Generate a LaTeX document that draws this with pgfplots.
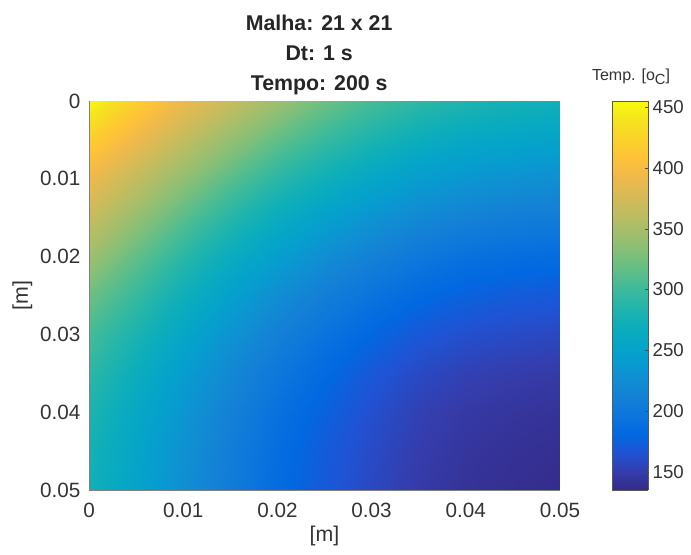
\documentclass[border=0pt]{standalone}
\usepackage{fontspec}
\setmainfont{Liberation Sans}
\usepackage{pgfplots}
\pgfplotsset{compat=1.18}
\pgfplotsset{colormap={parulaold}{
rgb=(0.2081,0.1663,0.5292) rgb=(0.2081,0.2386,0.6771) rgb=(0.1253,0.3242,0.8303) rgb=(0.0060,0.4086,0.8828)
rgb=(0.0498,0.4586,0.8641) rgb=(0.0779,0.5040,0.8384) rgb=(0.0641,0.5570,0.8240) rgb=(0.0265,0.6137,0.8135)
rgb=(0.0228,0.6535,0.7768) rgb=(0.0590,0.6838,0.7254) rgb=(0.1453,0.7098,0.6646) rgb=(0.2586,0.7317,0.5954)
rgb=(0.3953,0.7459,0.5244) rgb=(0.5300,0.7491,0.4661) rgb=(0.6473,0.7456,0.4188) rgb=(0.7525,0.7384,0.3768)
rgb=(0.8507,0.7299,0.3360) rgb=(0.9450,0.7261,0.2886) rgb=(0.9990,0.7653,0.2164) rgb=(0.9789,0.8271,0.1633)
rgb=(0.9589,0.8949,0.1132) rgb=(0.9763,0.9831,0.0538)}}
\definecolor{txt}{gray}{0.2}
\begin{document}
\begin{tikzpicture}[x=0.75pt,y=0.75pt]
\useasboundingbox (-89,-65) rectangle (602,490);
\begin{axis}[
  at={(0pt,0pt)},anchor=south west,
  scale only axis,width=353.25pt,height=291.75pt,
  view={0}{90},
  xmin=0,xmax=0.05,ymin=0,ymax=0.05,y dir=reverse,
  xtick={0,0.01,0.02,0.03,0.04,0.05},ytick={0,0.01,0.02,0.03,0.04,0.05},
  scaled ticks=false,
  xticklabel style={/pgf/number format/fixed,/pgf/number format/precision=2,yshift=-6pt},
  yticklabel style={/pgf/number format/fixed,/pgf/number format/precision=2,xshift=-3pt},
  /pgf/number format/assume math mode=true,
  tick label style={font=\fontsize{15.5}{17}\selectfont,text=txt},
  label style={font=\fontsize{16}{18}\selectfont,text=txt},
  major tick length=0pt,
  axis line style={gray,line width=0.6pt},
  axis x line*=bottom,axis y line*=left,
  xlabel={[m]},ylabel={[m]},
  ylabel style={yshift=-1pt},
  title style={align=center,font=\fontsize{16}{22.5}\selectfont\bfseries,text=black!85,yshift=-5pt,xshift=-4pt},
  title={Malha: 21 x 21\\Dt: 1 s\\Tempo: 200 s},
  colormap name=parulaold,
  point meta min=135,point meta max=455,
]
\addplot3[surf,shader=interp,mesh/rows=11] table[row sep=\\] {
x y z\\
0 0 455\\ 0.005 0 420\\ 0.01 0 392\\ 0.015 0 368\\ 0.02 0 345\\ 0.025 0 322\\ 0.03 0 304\\ 0.035 0 292\\ 0.04 0 283\\ 0.045 0 277\\ 0.05 0 274\\
0 0.005 420\\ 0.005 0.005 392\\ 0.01 0.005 365\\ 0.015 0.005 340\\ 0.02 0.005 316\\ 0.025 0.005 297\\ 0.03 0.005 281\\ 0.035 0.005 268\\ 0.04 0.005 259\\ 0.045 0.005 254\\ 0.05 0.005 251\\
0 0.01 392\\ 0.005 0.01 365\\ 0.01 0.01 338\\ 0.015 0.01 312\\ 0.02 0.01 290\\ 0.025 0.01 272\\ 0.03 0.01 256\\ 0.035 0.01 243\\ 0.04 0.01 235\\ 0.045 0.01 230\\ 0.05 0.01 227\\
0 0.015 368\\ 0.005 0.015 340\\ 0.01 0.015 312\\ 0.015 0.015 288\\ 0.02 0.015 266\\ 0.025 0.015 248\\ 0.03 0.015 232\\ 0.035 0.015 220\\ 0.04 0.015 212\\ 0.045 0.015 207\\ 0.05 0.015 205\\
0 0.02 345\\ 0.005 0.02 316\\ 0.01 0.02 290\\ 0.015 0.02 266\\ 0.02 0.02 245\\ 0.025 0.02 226\\ 0.03 0.02 211\\ 0.035 0.02 199\\ 0.04 0.02 191\\ 0.045 0.02 187\\ 0.05 0.02 185\\
0 0.025 322\\ 0.005 0.025 297\\ 0.01 0.025 272\\ 0.015 0.025 248\\ 0.02 0.025 226\\ 0.025 0.025 208\\ 0.03 0.025 194\\ 0.035 0.025 183\\ 0.04 0.025 176\\ 0.045 0.025 172\\ 0.05 0.025 170\\
0 0.03 304\\ 0.005 0.03 281\\ 0.01 0.03 256\\ 0.015 0.03 232\\ 0.02 0.03 211\\ 0.025 0.03 194\\ 0.03 0.03 180\\ 0.035 0.03 169\\ 0.04 0.03 163\\ 0.045 0.03 160\\ 0.05 0.03 158\\
0 0.035 292\\ 0.005 0.035 268\\ 0.01 0.035 243\\ 0.015 0.035 220\\ 0.02 0.035 199\\ 0.025 0.035 183\\ 0.03 0.035 169\\ 0.035 0.035 159\\ 0.04 0.035 153\\ 0.045 0.035 150\\ 0.05 0.035 148\\
0 0.04 283\\ 0.005 0.04 259\\ 0.01 0.04 235\\ 0.015 0.04 212\\ 0.02 0.04 191\\ 0.025 0.04 176\\ 0.03 0.04 163\\ 0.035 0.04 153\\ 0.04 0.04 147\\ 0.045 0.04 144\\ 0.05 0.04 142\\
0 0.045 277\\ 0.005 0.045 254\\ 0.01 0.045 230\\ 0.015 0.045 207\\ 0.02 0.045 187\\ 0.025 0.045 172\\ 0.03 0.045 160\\ 0.035 0.045 150\\ 0.04 0.045 144\\ 0.045 0.045 141\\ 0.05 0.045 139\\
0 0.05 274\\ 0.005 0.05 251\\ 0.01 0.05 227\\ 0.015 0.05 205\\ 0.02 0.05 185\\ 0.025 0.05 170\\ 0.03 0.05 158\\ 0.035 0.05 148\\ 0.04 0.05 142\\ 0.045 0.05 139\\ 0.05 0.05 137\\
};
\end{axis}
\begin{axis}[
  at={(392.25pt,0pt)},anchor=south west,
  scale only axis,width=27pt,height=291.75pt,
  view={0}{90},
  xmin=0,xmax=1,ymin=135,ymax=455,
  xtick=\empty,
  ytick={150,200,250,300,350,400,450},
  yticklabel pos=right,
  ytick align=inside,
  ytick pos=right,
  major tick length=2pt,
  tick style={black!70},
  axis line style={gray!70!black,line width=0.6pt},
  axis on top,
  /pgf/number format/assume math mode=true,
  tick label style={font=\fontsize{14}{16}\selectfont,text=txt},
  colormap name=parulaold,
  point meta min=135,point meta max=455,
]
\addplot3[surf,shader=interp,mesh/rows=2] table[row sep=\\] {
x y z\\
0 135 135\\ 1 135 135\\
0 455 455\\ 1 455 455\\
};
\end{axis}
\node[font=\fontsize{12}{14}\selectfont,text=txt,anchor=center] at (542,413) {Temp. [o\raisebox{-3pt}{\fontsize{11}{13}\selectfont C}]};
\end{tikzpicture}
\end{document}
